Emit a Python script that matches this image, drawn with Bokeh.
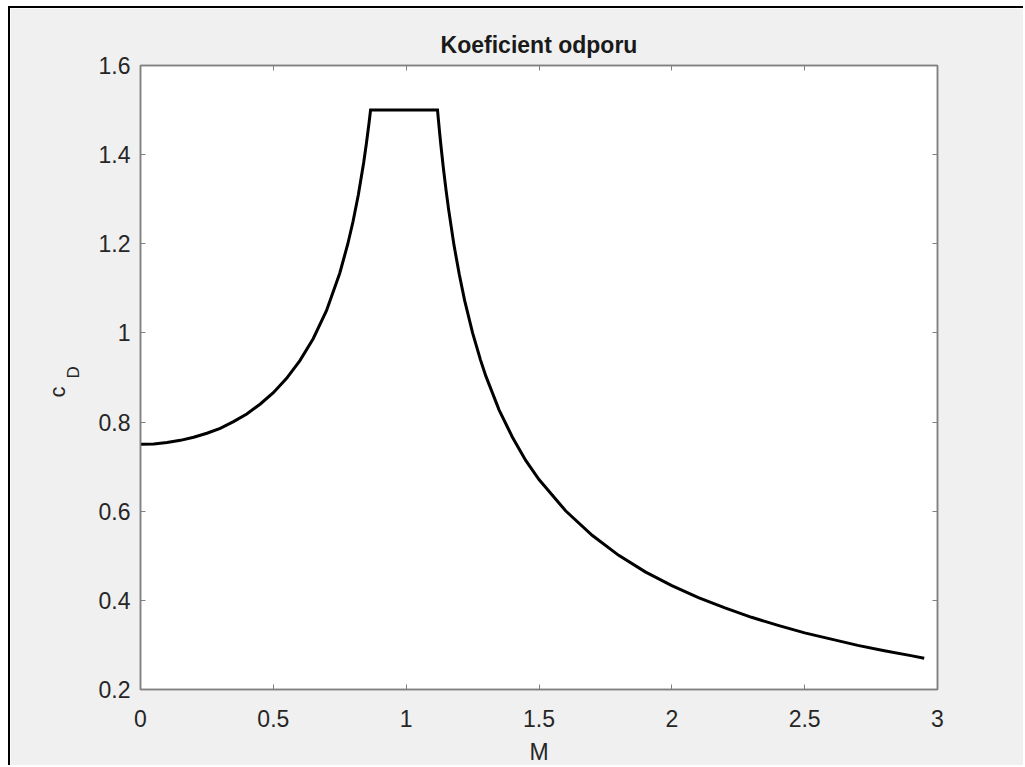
from bokeh.plotting import figure
from bokeh.models import LinearAxis, Title, FixedTicker, Range1d
from bokeh.embed import file_html
from bokeh.resources import INLINE

# Data (M -> c_D)
mach = [0.0, 0.05, 0.1, 0.15, 0.2, 0.25, 0.3, 0.35, 0.4, 0.45, 0.5, 0.55, 0.6, 0.65, 0.7, 0.75,
        0.78, 0.8, 0.82, 0.84, 0.85, 0.86, 0.866,
        1.118, 1.12, 1.125, 1.13, 1.14, 1.15, 1.16, 1.18, 1.2, 1.22, 1.25, 1.28, 1.3, 1.35, 1.4,
        1.45, 1.5, 1.6, 1.7, 1.8, 1.9, 2.0, 2.1, 2.2, 2.3, 2.4, 2.5, 2.6, 2.7, 2.8, 2.9, 2.95]
cd = [0.750, 0.751, 0.754, 0.759, 0.766, 0.775, 0.786, 0.801, 0.818, 0.840, 0.866, 0.898, 0.938, 0.987, 1.050, 1.134,
      1.199, 1.250, 1.310, 1.382, 1.424, 1.470, 1.500,
      1.500, 1.487, 1.455, 1.425, 1.370, 1.321, 1.276, 1.197, 1.131, 1.073, 1.000, 0.939, 0.903, 0.827, 0.766,
      0.714, 0.671, 0.601, 0.546, 0.501, 0.464, 0.433, 0.406, 0.383, 0.362, 0.344, 0.327, 0.313, 0.299, 0.287, 0.276, 0.270]

x_ticks = [0, 0.5, 1, 1.5, 2, 2.5, 3]
y_ticks = [0.2, 0.4, 0.6, 0.8, 1.0, 1.2, 1.4, 1.6]
x_tick_labels = {0: "0", 0.5: "0.5", 1: "1", 1.5: "1.5", 2: "2", 2.5: "2.5", 3: "3"}
y_tick_labels = {0.2: "0.2", 0.4: "0.4", 0.6: "0.6", 0.8: "0.8", 1.0: "1", 1.2: "1.2", 1.4: "1.4", 1.6: "1.6"}

title_text = "Koeficient odporu"
x_label = "M"
y_label_main = "c"
y_label_sub = "D"

FONT = "Liberation Sans"
BG = "#f0f0f0"
AX = "#808080"
TXT = "#262626"

W, H = 1015, 759
p = figure(width=W, height=H, output_backend="svg", toolbar_location=None,
           x_range=Range1d(0, 3), y_range=Range1d(0.2, 1.6),
           x_axis_location=None, y_axis_location=None,
           min_border_left=130, min_border_right=88, min_border_top=57, min_border_bottom=78)
p.background_fill_color = "white"
p.border_fill_color = BG
p.outline_line_color = AX
p.outline_line_width = 1.5
p.xgrid.visible = False
p.ygrid.visible = False

p.title.text = title_text
p.title.align = "center"
p.title.text_font = FONT
p.title.text_font_size = "23px"
p.title.text_font_style = "bold"
p.title.text_color = "#1a1a1a"
p.title.standoff = 16

def style_axis(ax, ticks, show_labels):
    ax.ticker = FixedTicker(ticks=ticks)
    ax.axis_line_color = AX
    ax.axis_line_width = 1.5
    ax.major_tick_line_color = AX
    ax.major_tick_in = 5
    ax.major_tick_out = 0
    ax.minor_tick_line_color = None
    ax.major_label_text_font = FONT
    if show_labels:
        ax.major_label_text_font_size = "23px"
        ax.major_label_text_color = TXT
    else:
        ax.major_label_text_font_size = "1px"
        ax.major_label_text_color = None
        ax.major_label_standoff = 0

xb = LinearAxis()
p.add_layout(xb, "below")
style_axis(xb, x_ticks, True)
xb.major_label_overrides = x_tick_labels
xb.major_label_standoff = 20
xb.axis_label = x_label
xb.axis_label_text_font = FONT
xb.axis_label_text_font_size = "23px"
xb.axis_label_text_font_style = "normal"
xb.axis_label_text_color = TXT
xb.axis_label_standoff = 9

yl = LinearAxis()
p.add_layout(yl, "left")
style_axis(yl, y_ticks, True)
yl.major_label_overrides = y_tick_labels
yl.major_label_standoff = 10

xt = LinearAxis()
p.add_layout(xt, "above")
style_axis(xt, x_ticks, False)

yr = LinearAxis()
p.add_layout(yr, "right")
style_axis(yr, y_ticks, False)

# y axis label "c_D" built from two side titles (subscript nearer the axis)
t_sub = Title(text=y_label_sub, align="left", offset=311, standoff=25,
              text_font=FONT, text_font_size="17px", text_font_style="normal", text_color=TXT)
t_main = Title(text=y_label_main, align="left", offset=292, standoff=-41,
               text_font=FONT, text_font_size="22px", text_font_style="normal", text_color=TXT)
p.add_layout(t_sub, "left")
p.add_layout(t_main, "left")

p.line(mach, cd, line_color="black", line_width=3, line_join="miter")

p.styles = {"margin-left": "8px", "margin-top": "6px",
            "border-top": "2px solid black", "border-left": "2px solid black"}

open("out.html", "w").write(file_html(p, INLINE))
